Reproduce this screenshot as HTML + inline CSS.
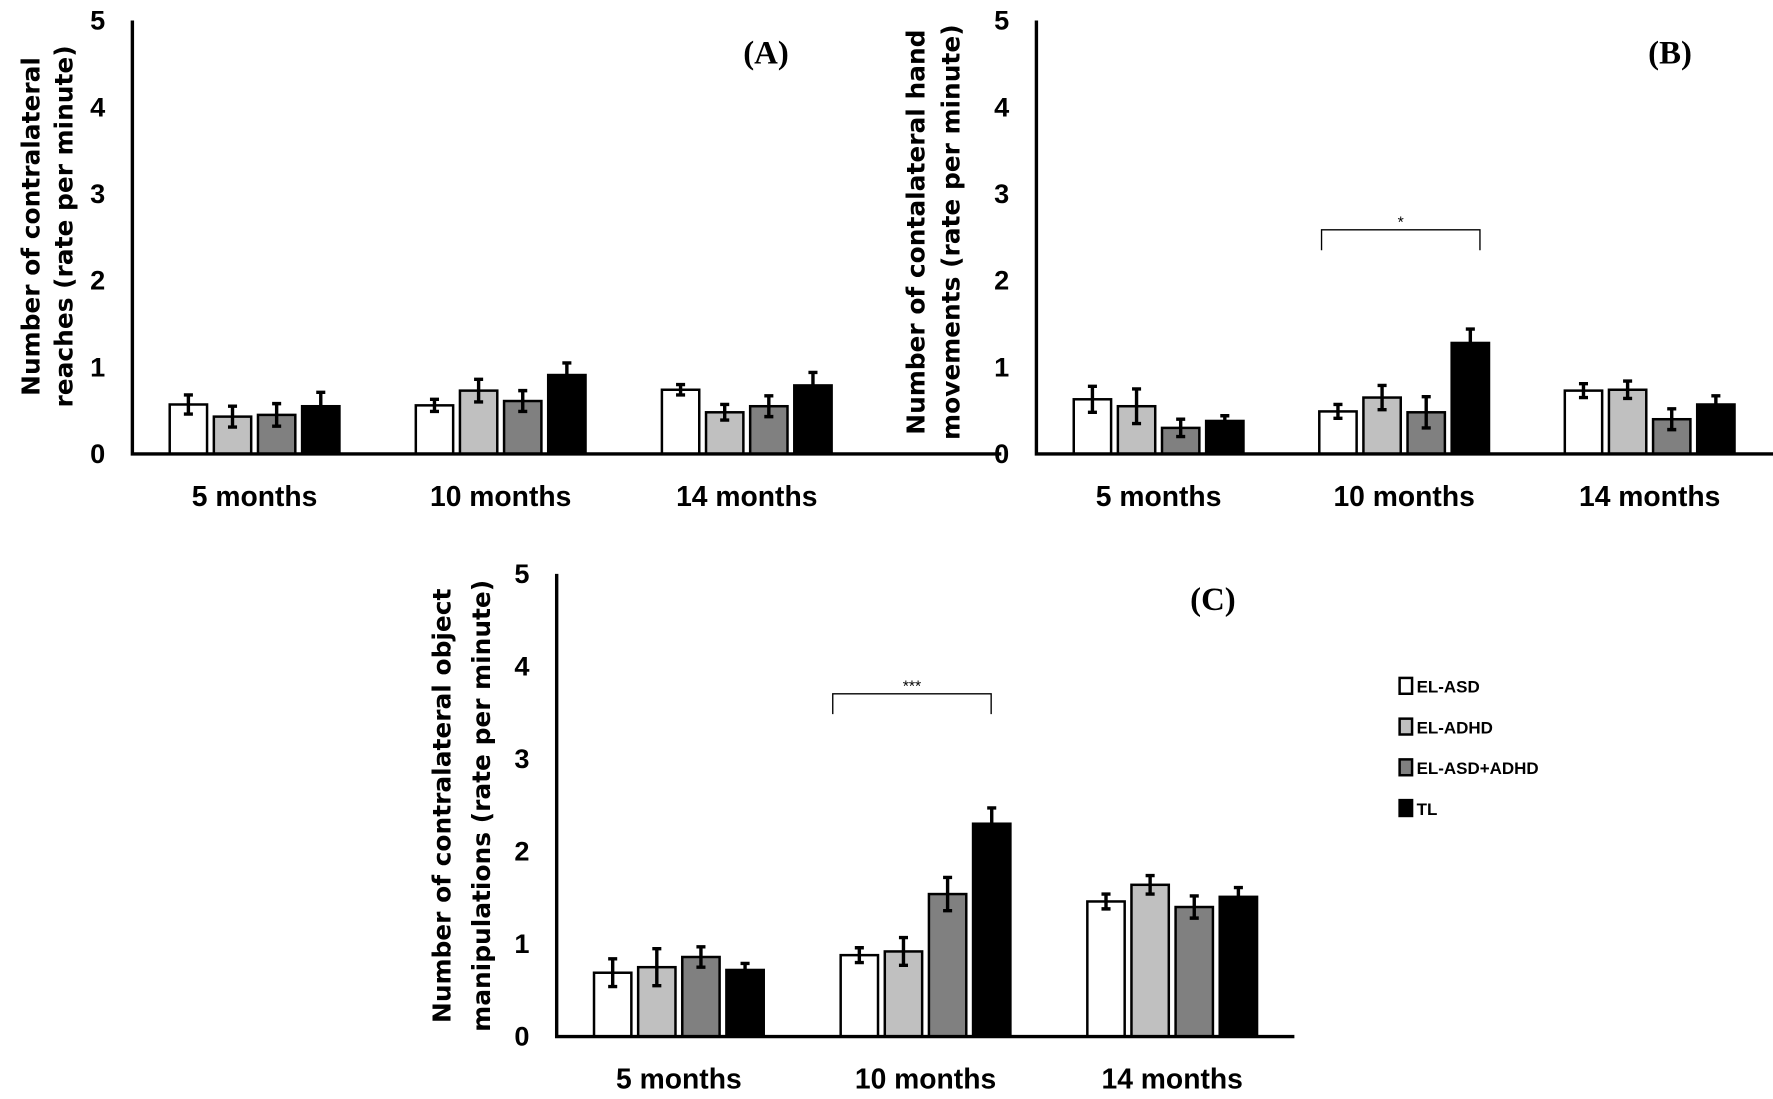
<!DOCTYPE html>
<html><head><meta charset="utf-8">
<style>
html,body{margin:0;padding:0;background:#fff;}
svg{display:block;}
text{font-family:"Liberation Sans",sans-serif;font-weight:bold;fill:#000;}
.yt{font-family:"DejaVu Sans",sans-serif;font-size:22px;}
.tick{font-size:24px;}
.cat{font-size:25px;}
.pl{font-family:"Liberation Serif",serif;font-size:29px;}
.lg{font-size:15px;}
</style></head>
<body>
<svg id="fig" width="1773" height="1099" viewBox="0 0 1567 971" xmlns="http://www.w3.org/2000/svg">
<g id="root"></g>
</svg>
<script>
const categories = ["5 months","10 months","14 months"];
const groups = ["EL-ASD","EL-ADHD","EL-ASD+ADHD","TL"];
const yTicks = [0,1,2,3,4,5];
const valuesA = [[0.57,0.43,0.45,0.55],[0.56,0.73,0.61,0.91],[0.74,0.48,0.55,0.79]];
const errorsA = [[0.11,0.12,0.13,0.16],[0.07,0.13,0.12,0.14],[0.06,0.09,0.12,0.15]];
const valuesB = [[0.63,0.55,0.30,0.38],[0.49,0.65,0.48,1.28],[0.73,0.74,0.40,0.57]];
const errorsB = [[0.15,0.20,0.10,0.06],[0.08,0.14,0.18,0.16],[0.08,0.10,0.12,0.10]];
const valuesC = [[0.69,0.75,0.86,0.72],[0.88,0.92,1.54,2.30],[1.46,1.64,1.40,1.51]];
const errorsC = [[0.15,0.20,0.11,0.07],[0.08,0.15,0.18,0.17],[0.08,0.10,0.12,0.10]];
const fills = ["#ffffff","#c0c0c0","#808080","#000000"];
const NS="http://www.w3.org/2000/svg";
const root=document.getElementById('root');
function mk(tag,attrs,parent){const e=document.createElementNS(NS,tag);for(const k in attrs)e.setAttribute(k,attrs[k]);(parent||root).appendChild(e);return e;}

function panel(p){
  const g=mk('g',{});
  
  
  const y=v=>p.y0-(p.y0-p.y5)*v/5;
  const xc=i=>p.c0+i*p.step;
  p.vals.forEach((row,ci)=>{row.forEach((v,si)=>{
    const bx=xc(ci)-75+si*39;
    const r=mk('rect',{x:bx,y:y(v),width:33,height:p.y0-y(v),fill:fills[si],stroke:'#000','stroke-width':2.2},g);
    
    
    const e=p.errs[ci][si],cx=bx+16.5;
    const eb=mk('path',{d:`M${cx},${y(v+e)}V${y(v-e)}M${cx-4},${y(v+e)}H${cx+4}M${cx-4},${y(v-e)}H${cx+4}`,stroke:'#000','stroke-width':3,fill:'none'},g);
    
    
  });});
  const ax=mk('path',{d:`M${p.x0},${p.y5}V${p.y0}H${p.x1}`,stroke:'#000','stroke-width':3,fill:'none'},g);
  
  
  yTicks.forEach(t=>{const tx=mk('text',{x:p.x0-24,y:y(t)+8,'text-anchor':'end',class:'tick'},g);tx.textContent=t;
    
    });
  categories.forEach((c,i)=>{const tx=mk('text',{x:xc(i),y:p.y0+46,'text-anchor':'middle',class:'cat'},g);tx.textContent=c;
    
    });
  p.title.forEach((t,i)=>{const tx=mk('text',{x:0,y:0,'text-anchor':'middle',class:'yt',transform:`translate(${p.tx[i]},${p.ty}) rotate(-90)`},g);tx.textContent=t;
    
    });
  const pl=mk('text',{x:p.lx,y:p.ly,'text-anchor':'middle',class:'pl'},g);pl.textContent=p.label;
  
  
  if(p.br){const b=p.br;
    const bp=mk('path',{d:`M${b[0]},${b[2]+18}V${b[2]}H${b[1]}V${b[2]+18}`,stroke:'#000','stroke-width':1.2,fill:'none'},g);
    
    
    const st=mk('text',{x:(b[0]+b[1])/2,y:b[2]-2,'text-anchor':'middle',style:'font-size:14px;font-weight:normal'},g);st.textContent=b[3];
    
    }
}
panel({name:'panel-a',vals:valuesA,errs:errorsA,x0:117,x1:885,y0:401,y5:18,c0:225,step:217.5,
  title:['Number of contralateral','reaches (rate per minute)'],tx:[35,64],ty:200,label:'(A)',lx:677,ly:56});
panel({name:'panel-b',vals:valuesB,errs:errorsB,x0:916,x1:1567,y0:401,y5:18,c0:1024,step:217,
  title:['Number of contalateral hand','movements (rate per minute)'],tx:[817,848],ty:205,label:'(B)',lx:1476,ly:56,br:[1168,1308,203,'*']});
panel({name:'panel-c',vals:valuesC,errs:errorsC,x0:492,x1:1144,y0:916,y5:507,c0:600,step:218,
  title:['Number of contralateral object','manipulations (rate per minute)'],tx:[398,433],ty:712,label:'(C)',lx:1072,ly:539,br:[736,876,613,'***']});
groups.forEach((gname,i)=>{
  const ly=606+i*36;
  const r=mk('rect',{x:1237,y:ly-7,width:11,height:14,fill:fills[i],stroke:'#000','stroke-width':2.2});
  
  
  const t=mk('text',{x:1252,y:ly+6,class:'lg'});t.textContent=gname;
  
  
});
</script>
</body></html>
